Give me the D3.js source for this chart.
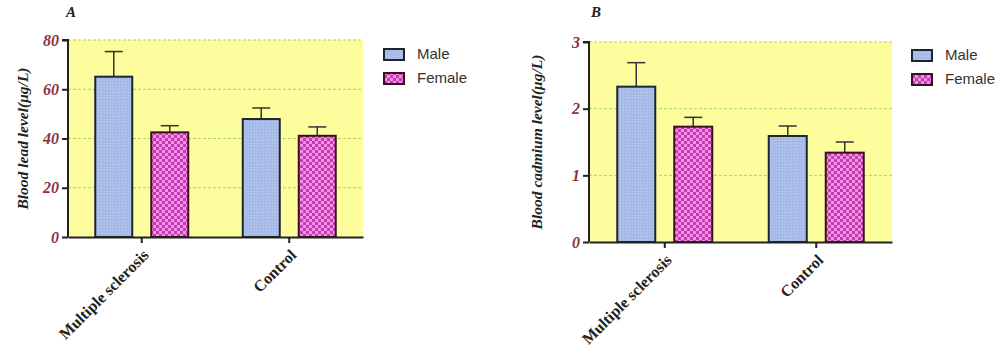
<!DOCTYPE html>
<html><head><meta charset="utf-8">
<script src="https://cdn.jsdelivr.net/npm/d3@7"></script>
<style>body{margin:0;background:#fff;}svg{display:block;}</style>
</head><body>
<svg id="c" width="1000" height="356"></svg>
<script>
const categories = ["Multiple sclerosis", "Control"];
const seriesNames = ["Male", "Female"];
// Panel A: blood lead
const leadMean = [[65.1, 42.5], [47.9, 41.1]];
const leadErr = [[75.3, 45.2], [52.4, 44.7]];
const leadTicks = [0, 20, 40, 60, 80];
// Panel B: blood cadmium
const cadMean = [[2.33, 1.73], [1.59, 1.34]];
const cadErr = [[2.69, 1.87], [1.74, 1.50]];
const cadTicks = [0, 1, 2, 3];

const svg = d3.select("#c");
const defs = svg.append("defs");
// male pattern
const pm = defs.append("pattern").attr("id","pm").attr("width",3).attr("height",3).attr("patternUnits","userSpaceOnUse");
pm.append("rect").attr("width",3).attr("height",3).attr("fill","#a9bde9");
pm.append("rect").attr("width",1).attr("height",1).attr("fill","#98aee0");
pm.append("rect").attr("x",2).attr("y",2).attr("width",1).attr("height",1).attr("fill","#b8c8ef");
// female pattern
const pf = defs.append("pattern").attr("id","pf").attr("width",6).attr("height",6).attr("patternUnits","userSpaceOnUse");
pf.append("rect").attr("width",6).attr("height",6).attr("fill","#c43cb4");
pf.append("rect").attr("width",3).attr("height",3).attr("fill","#f590e6");
pf.append("rect").attr("x",3).attr("y",3).attr("width",3).attr("height",3).attr("fill","#f590e6");

function panel(o) {
  const g = svg.append("g");
  const x = d3.scaleBand().domain(categories).range([o.x0, o.x1]);
  const y = d3.scaleLinear().domain([0, o.max]).range([o.y0, o.y1]);
  const xs = d3.scaleBand().domain(seriesNames).range([-o.off - o.bw/2, o.off + o.bw/2]).paddingInner(1 - o.bw/(2*o.off));
  g.append("rect").attr("x",o.x0).attr("y",o.y1).attr("width",o.x1-o.x0).attr("height",o.y0-o.y1).attr("fill","#fdfd9e");
  // grid
  g.selectAll(".grid").data(o.ticks.filter(t=>t>0)).join("line")
    .attr("x1",o.x0).attr("x2",o.x1).attr("y1",d=>y(d)).attr("y2",d=>y(d))
    .attr("stroke","#a9d35a").attr("stroke-width",1).attr("stroke-dasharray","3,2");
  // bars
  categories.forEach((c,ci)=>{
    seriesNames.forEach((s,si)=>{
      const bx = x(c) + x.bandwidth()/2 + xs(s);
      const bw = xs.bandwidth();
      const top = y(o.mean[ci][si]);
      const et = y(o.err[ci][si]);
      g.append("line").attr("x1",bx+bw/2).attr("x2",bx+bw/2).attr("y1",top).attr("y2",et).attr("stroke","#333").attr("stroke-width",1.5);
      g.append("line").attr("x1",bx+bw/2-9).attr("x2",bx+bw/2+9).attr("y1",et).attr("y2",et).attr("stroke","#333").attr("stroke-width",1.5);
      g.append("rect").attr("x",bx).attr("y",top).attr("width",bw).attr("height",o.y0-top)
        .attr("fill", si===0 ? "url(#pm)" : "url(#pf)")
        .attr("stroke", si===0 ? "#1e2430" : "#3a1020").attr("stroke-width",2);
    });
  });
  // y axis
  const ya = g.append("g").attr("transform",`translate(${o.x0},0)`)
    .call(d3.axisLeft(y).tickValues(o.ticks).tickSize(6).tickPadding(3).tickFormat(d3.format("d")));
  ya.select(".domain").attr("stroke","#222").attr("stroke-width",2).attr("d",`M-6,${o.y1}H0V${o.y0}`);
  ya.selectAll(".tick line").attr("stroke","#222").attr("stroke-width",2);
  ya.selectAll(".tick text").attr("fill","#8a3340").attr("font-family","Liberation Serif, serif")
    .attr("font-style","italic").attr("font-weight","bold").attr("font-size",16);
  // x axis
  const xa = g.append("g").attr("transform",`translate(0,${o.y0})`)
    .call(d3.axisBottom(x).tickSize(6).tickSizeOuter(0).tickPadding(4));
  xa.select(".domain").attr("stroke","#222").attr("stroke-width",2);
  xa.selectAll(".tick line").attr("stroke","#222").attr("stroke-width",2);
  xa.selectAll(".tick text").attr("fill","#222").attr("font-family","Liberation Serif, serif")
    .attr("font-weight","bold").attr("font-size",16).attr("text-anchor","end")
    .attr("dy","0.35em").attr("transform","translate(-3,8) rotate(-45)");
  // y title
  g.append("text").attr("transform",`translate(${o.titleX},${(o.y0+o.y1)/2}) rotate(-90)`)
    .attr("text-anchor","middle").attr("font-family","Liberation Serif, serif").attr("font-style","italic")
    .attr("font-weight","bold").attr("font-size",15.5).attr("fill","#222").text(o.title);
  // panel letter
  g.append("text").attr("x",o.letterX).attr("y",17).attr("font-family","Liberation Serif, serif")
    .attr("font-style","italic").attr("font-weight","bold").attr("font-size",15).attr("fill","#222").text(o.letter);
  // legend
  seriesNames.forEach((s,i)=>{
    const ly = o.legY + i*24;
    g.append("rect").attr("x",o.legX).attr("y",ly-5).attr("width",20).attr("height",11)
      .attr("fill", i===0 ? "url(#pm)" : "url(#pf)").attr("stroke", i===0?"#1e2430":"#3a1020").attr("stroke-width",2);
    g.append("text").attr("x",o.legX+33).attr("y",ly).attr("dy","0.35em").attr("font-family","Liberation Sans, Arial, sans-serif")
      .attr("font-size",15).attr("fill","#333").text(s);
  });
}

panel({x0:68, x1:363, y0:237, y1:40, max:80, ticks:leadTicks, mean:leadMean, err:leadErr, off:28, bw:37,
  title:"Blood lead level(μg/L)", titleX:28, letter:"A", letterX:66, legX:384, legY:54});
panel({x0:589, x1:892, y0:242, y1:42, max:3, ticks:cadTicks, mean:cadMean, err:cadErr, off:28.5, bw:38,
  title:"Blood cadmium level(μg/L)", titleX:542, letter:"B", letterX:591, legX:912, legY:55});
</script>
</body></html>
